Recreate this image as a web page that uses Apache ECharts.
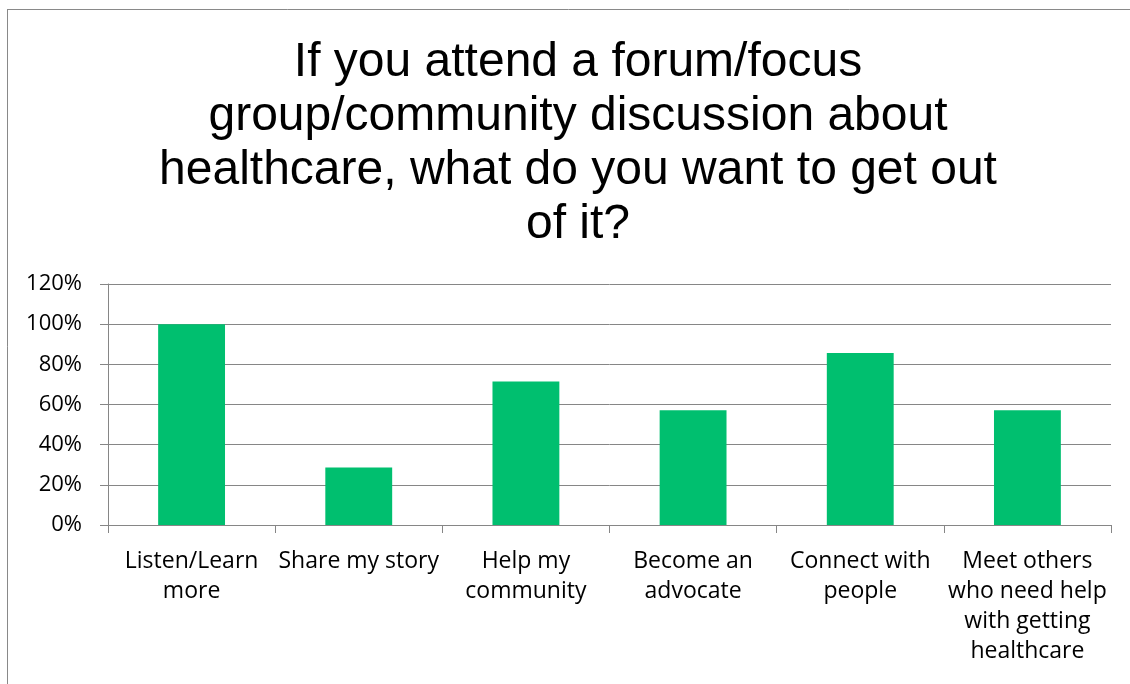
<!DOCTYPE html>
<html>
<head>
<meta charset="utf-8">
<script src="https://cdn.jsdelivr.net/npm/echarts@6/dist/echarts.min.js"></script>
<style>
html, body { margin: 0; padding: 0; background: #fff; }
#chart { width: 1130px; height: 684px; }
</style>
</head>
<body>
<div id="chart"></div>
<script>
const titleText = 'If you attend a forum/focus\ngroup/community discussion about\nhealthcare, what do you want to get out\nof it?';
const categories = [
  'Listen/Learn\nmore',
  'Share my story',
  'Help my\ncommunity',
  'Become an\nadvocate',
  'Connect with\npeople',
  'Meet others\nwho need help\nwith getting\nhealthcare'
];
const shares = [1.0, 0.286, 0.714, 0.571, 0.857, 0.571];
const yTicks = [0, 0.2, 0.4, 0.6, 0.8, 1.0, 1.2];

const chart = echarts.init(document.getElementById('chart'));
const labelFont = '"Open Sans", Lato, sans-serif';
chart.setOption({
  backgroundColor: '#fff',
  animation: false,
  title: {
    text: titleText,
    left: 573,
    textAlign: 'center',
    top: 31,
    textStyle: {
      fontFamily: '"Liberation Sans", Arial, sans-serif',
      fontSize: 48,
      fontWeight: 'normal',
      color: '#000',
      lineHeight: 54
    }
  },
  graphic: [
    { type: 'line', shape: { x1: 7.5, y1: 9.5, x2: 7.5, y2: 684 }, style: { stroke: '#898989', lineWidth: 1 } },
    { type: 'line', shape: { x1: 7, y1: 9.5, x2: 1130, y2: 9.5 }, style: { stroke: '#898989', lineWidth: 1 } }
  ],
  grid: { left: 108, right: 19, top: 284, bottom: 159 },
  xAxis: {
    type: 'category',
    data: categories,
    axisLine: { lineStyle: { color: '#868686' } },
    axisTick: { show: true, length: 8, lineStyle: { color: '#868686' } },
    axisLabel: {
      interval: 0,
      color: '#000',
      fontFamily: labelFont,
      fontSize: 23,
      lineHeight: 30,
      margin: 21
    }
  },
  yAxis: {
    type: 'value',
    min: 0,
    max: 1.2,
    interval: 0.2,
    axisLine: { show: true, lineStyle: { color: '#868686' } },
    axisTick: { show: true, length: 8, lineStyle: { color: '#868686' } },
    splitLine: { lineStyle: { color: '#868686' } },
    axisLabel: {
      color: '#000',
      fontFamily: labelFont,
      fontSize: 22,
      margin: 26,
      formatter: v => {
        const t = yTicks.find(x => Math.abs(x - v) < 1e-6);
        return Math.round((t ?? v) * 100) + '%';
      }
    }
  },
  series: [{
    type: 'bar',
    data: shares,
    barCategoryGap: '60%',
    itemStyle: { color: '#00BF6F' }
  }]
});
</script>
</body>
</html>
